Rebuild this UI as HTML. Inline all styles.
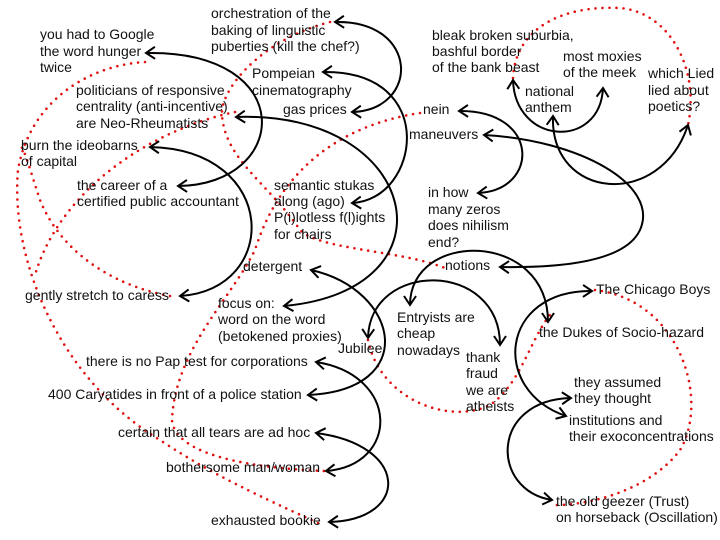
<!DOCTYPE html>
<html><head><meta charset="utf-8"><style>
html,body{margin:0;padding:0;background:#fff;}
svg{display:block;}
text{font-family:"Liberation Sans",Arial,sans-serif;font-size:14px;fill:#111;}
.c{fill:none;stroke:#000;stroke-width:2;marker-start:url(#a);marker-end:url(#a);}
.d{fill:none;stroke:#e01010;stroke-width:2.6;stroke-dasharray:0 7;stroke-linecap:round;}
</style></head><body>
<svg width="720" height="540" viewBox="0 0 720 540" xmlns="http://www.w3.org/2000/svg">
<defs>
<marker id="a" markerWidth="14" markerHeight="14" refX="10" refY="7" orient="auto-start-reverse" markerUnits="userSpaceOnUse">
<path d="M1,1 L10,7 L1,13" fill="none" stroke="#000" stroke-width="2"/>
</marker>
</defs>
<!-- dotted red -->
<path class="d" d="M330,22 C260,40 220,90 222,115 C225,160 270,185 300,230 C320,250 400,250 445,268"/>
<path class="d" d="M145,62 C90,65 30,100 18,170 C10,260 60,380 160,440 C220,480 280,505 320,524"/>
<path class="d" d="M235,112 C150,130 60,190 35,275"/>
<path class="d" d="M170,296 C110,285 60,250 40,200 C30,170 25,150 20,145"/>
<path class="d" d="M420,113 C340,125 280,170 255,250 C230,300 175,350 172,420 C175,455 250,468 325,471"/>
<path class="d" d="M368,340 C380,400 450,425 490,405 C520,385 530,340 550,315"/>
<path class="d" d="M595,290 C680,300 710,400 680,450 C650,490 590,505 556,505"/>
<path class="d" d="M513,78 C515,30 560,5 620,8 C670,12 700,70 688,125"/>
<!-- black connectors -->
<path class="c" d="M335,22 C420,20 420,110 352,112"/>
<path class="c" d="M323,72 C440,70 420,200 352,203"/>
<path class="c" d="M146,53 C300,50 290,185 178,186"/>
<path class="c" d="M150,147 C280,150 280,290 180,296"/>
<path class="c" d="M236,117 C420,110 460,290 284,306"/>
<path class="c" d="M459,111 C540,110 540,190 478,193"/>
<path class="c" d="M484,135 C580,140 660,185 640,230 C625,262 560,268 500,267"/>
<path class="c" d="M513,80 C515,145 600,150 603,88"/>
<path class="c" d="M553,116 C550,200 660,210 688,125"/>
<path class="c" d="M311,270 C400,290 420,390 308,395"/>
<path class="c" d="M316,362 C400,375 400,465 326,471"/>
<path class="c" d="M316,433 C410,445 410,520 329,522"/>
<path class="c" d="M368,338 C370,260 500,260 500,345"/>
<path class="c" d="M410,305 C410,230 548,230 548,322"/>
<path class="c" d="M592,291 C500,290 490,390 566,416"/>
<path class="c" d="M571,398 C490,400 490,490 552,500"/>
<!-- labels -->
<text x="211" y="18">orchestration of the</text>
<text x="211" y="35">baking of linguistic</text>
<text x="211" y="51">puberties (kill the chef?)</text>
<text x="40" y="39">you had to Google</text>
<text x="40" y="56">the word hunger</text>
<text x="40" y="72">twice</text>
<text x="76" y="95">politicians of responsive</text>
<text x="76" y="111">centrality (anti-incentive)</text>
<text x="76" y="128">are Neo-Rheumatists</text>
<text x="252" y="78">Pompeian</text>
<text x="252" y="95">cinematography</text>
<text x="283" y="114">gas prices</text>
<text x="21" y="150">burn the ideobarns</text>
<text x="21" y="166">of capital</text>
<text x="77" y="190">the career of a</text>
<text x="77" y="206">certified public accountant</text>
<text x="274" y="190">semantic stukas</text>
<text x="274" y="206">along (ago)</text>
<text x="274" y="222">P(i)lotless f(l)ights</text>
<text x="274" y="239">for chairs</text>
<text x="432" y="40">bleak broken suburbia,</text>
<text x="432" y="56">bashful border</text>
<text x="432" y="72">of the bank beast</text>
<text x="563" y="61">most moxies</text>
<text x="563" y="77">of the meek</text>
<text x="525" y="96">national</text>
<text x="525" y="112">anthem</text>
<text x="648" y="78">which Lied</text>
<text x="648" y="95">lied about</text>
<text x="648" y="111">poetics?</text>
<text x="423" y="114">nein</text>
<text x="409" y="139">maneuvers</text>
<text x="428" y="197">in how</text>
<text x="428" y="214">many zeros</text>
<text x="428" y="230">does nihilism</text>
<text x="428" y="247">end?</text>
<text x="445" y="270">notions</text>
<text x="243" y="271">detergent</text>
<text x="25" y="300">gently stretch to caress</text>
<text x="218" y="308">focus on:</text>
<text x="218" y="324">word on the word</text>
<text x="218" y="341">(betokened proxies)</text>
<text x="338" y="353">Jubilee</text>
<text x="397" y="322">Entryists are</text>
<text x="397" y="338">cheap</text>
<text x="397" y="355">nowadays</text>
<text x="466" y="362">thank</text>
<text x="466" y="378">fraud</text>
<text x="466" y="395">we are</text>
<text x="466" y="411">atheists</text>
<text x="596" y="294">The Chicago Boys</text>
<text x="539" y="337">the Dukes of Socio-hazard</text>
<text x="574" y="387">they assumed</text>
<text x="574" y="403">they thought</text>
<text x="569" y="425">institutions and</text>
<text x="569" y="441">their exoconcentrations</text>
<text x="556" y="506">the old geezer (Trust)</text>
<text x="556" y="522">on horseback (Oscillation)</text>
<text x="86" y="366">there is no Pap test for corporations</text>
<text x="48" y="399">400 Caryatides in front of a police station</text>
<text x="118" y="437">certain that all tears are ad hoc</text>
<text x="166" y="472">bothersome man/woman</text>
<text x="211" y="525">exhausted bookie</text>
</svg>
</body></html>
